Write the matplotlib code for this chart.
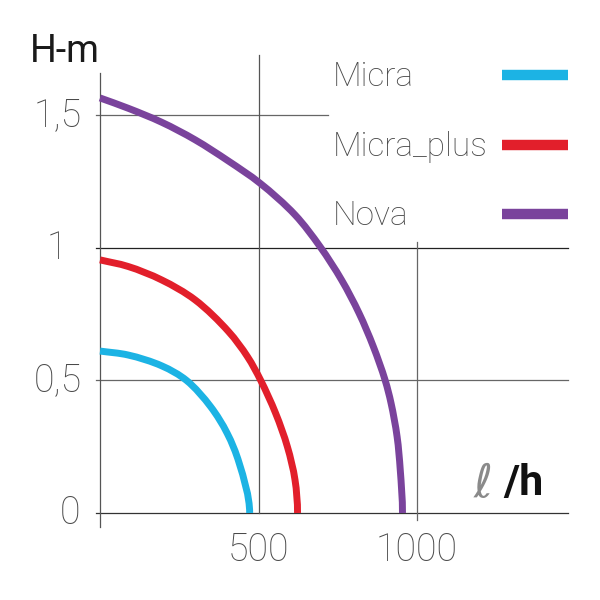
import matplotlib
matplotlib.use("Agg")
import matplotlib.pyplot as plt
from matplotlib.path import Path
from matplotlib.patches import PathPatch
import matplotlib.transforms as mtrans
import numpy as np

# ---- data ----
series_names = ["Micra", "Micra_plus", "Nova"]
series_colors = ["#1cb3e4", "#e21f2b", "#7a439c"]

micra_q = [0, 89, 195, 273, 349, 401, 439, 472]
micra_h = [0.611, 0.596, 0.555, 0.500, 0.401, 0.301, 0.188, 0.0]

micra_plus_q = [0, 89, 195, 300, 405, 465, 507, 554, 591, 615, 623]
micra_plus_h = [0.955, 0.930, 0.879, 0.804, 0.685, 0.590, 0.500, 0.376, 0.250, 0.125, 0.0]

nova_q = [0, 89, 195, 300, 405, 505, 615, 694, 762, 817, 862, 899, 918, 937, 947, 954]
nova_h = [1.566, 1.527, 1.474, 1.408, 1.328, 1.244, 1.125, 1.005, 0.879, 0.754, 0.628,
          0.502, 0.414, 0.288, 0.162, 0.0]

y_ticks = [0, 0.5, 1, 1.5]
y_tick_labels = ["0", "0,5", "1", "1,5"]
x_ticks = [500, 1000]
x_tick_labels = ["500", "1000"]

FONT = ["Roboto", "DejaVu Sans"]

XMAX, YMAX = 1476, 1.728
AX_W, AX_H = 468, 458  # axes size in pixels


def smooth_path(q, h):
    """Centripetal Catmull-Rom curve through the read points, as cubic Beziers."""
    sx, sy = AX_W / XMAX, AX_H / YMAX
    p = np.column_stack([np.asarray(q, float) * sx, np.asarray(h, float) * sy])
    first = 2 * p[0] - p[1]
    last = np.array([p[-2, 0], -p[-2, 1]])
    ext = np.vstack([first, p, last])
    verts = [tuple(p[0])]
    codes = [Path.MOVETO]
    for i in range(1, len(ext) - 2):
        p0, p1, p2, p3 = ext[i - 1], ext[i], ext[i + 1], ext[i + 2]
        d1 = max(np.hypot(*(p1 - p0)), 1e-6)
        d2 = max(np.hypot(*(p2 - p1)), 1e-6)
        d3 = max(np.hypot(*(p3 - p2)), 1e-6)
        r1, r2, r3 = np.sqrt(d1), np.sqrt(d2), np.sqrt(d3)
        b1 = (d1 * p2 - d2 * p0 + (2 * d1 + 3 * r1 * r2 + d2) * p1) / (3 * r1 * (r1 + r2))
        b2 = (d3 * p1 - d2 * p3 + (2 * d3 + 3 * r3 * r2 + d2) * p2) / (3 * r3 * (r3 + r2))
        verts += [tuple(b1), tuple(b2), tuple(p2)]
        codes += [Path.CURVE4] * 3
    verts = np.array(verts) / np.array([sx, sy])
    return Path(verts, codes)


fig = plt.figure(figsize=(6, 6), dpi=100)
ax = fig.add_axes([100 / 600, 87 / 600, AX_W / 600, AX_H / 600])
ax.set_xlim(0, XMAX)
ax.set_ylim(0, YMAX)
ax.axis("off")

# ---- grid / axis lines ----
gkw = dict(lw=0.9, clip_on=False, zorder=1)
ax.plot([-12, XMAX], [0, 0], color="#333333", **gkw)
ax.plot([-12, XMAX], [0.5, 0.5], color="#666666", **gkw)
ax.plot([-12, XMAX], [1, 1], color="#222222", **gkw)
ax.plot([-12, 720], [1.5, 1.5], color="#666666", **gkw)
ax.plot([0, 0], [-0.053, 1.66], color="#555555", **gkw)
ax.plot([500, 500], [0, YMAX], color="#555555", **gkw)
ax.plot([1000, 1000], [-0.026, 1.023], color="#666666", **gkw)

# ---- curves ----
all_q = [micra_q, micra_plus_q, nova_q]
all_h = [micra_h, micra_plus_h, nova_h]
for q, h, c in zip(all_q, all_h, series_colors):
    patch = PathPatch(smooth_path(q, h), facecolor="none", edgecolor=c, lw=5.0,
                      capstyle="butt", joinstyle="round", zorder=3, clip_on=False)
    ax.add_patch(patch)

# ---- tick labels ----
ytrans = mtrans.blended_transform_factory(fig.transFigure, ax.transData)
tick_centers = [70, 58, 57, 58]
for yv, lab, cx in zip(y_ticks, y_tick_labels, tick_centers):
    ax.text(cx / 600, yv, lab, transform=ytrans, ha="center", va="center",
            fontsize=27, family=FONT, fontweight="light", color="#4a4a4a")
xtrans = mtrans.blended_transform_factory(ax.transData, fig.transFigure)
for xv, lab in zip(x_ticks, x_tick_labels):
    ax.text(xv, 1 - 550 / 600, lab, transform=xtrans, ha="center", va="center",
            fontsize=27, family=FONT, fontweight="light", color="#4a4a4a")

# ---- axis titles ----
fig.text(30 / 600, 1 - 52 / 600, "H-m", ha="left", va="center", fontsize=27,
         family=FONT, color="#1a1a1a")
fig.text(474 / 600, 1 - 484 / 600, "\u2113", ha="left", va="center", fontsize=33,
         family=["DejaVu Sans", "Noto Sans"], style="italic", fontweight="light",
         color="#8a8a8a")
fig.text(503 / 600, 1 - 484 / 600, "/h", ha="left", va="center", fontsize=31,
         family=FONT, fontweight="bold", color="#111111")

# ---- legend ----
leg_y = [75, 145, 214]
for name, c, yy in zip(series_names, series_colors, leg_y):
    fig.text(333 / 600, 1 - (yy + 2) / 600, name, ha="left", va="center", fontsize=24,
             family=FONT, fontweight="light", color="#4a4a4a")
    fig.add_artist(plt.Line2D([502 / 600, 568 / 600], [1 - yy / 600, 1 - yy / 600],
                              color=c, lw=7.5, solid_capstyle="butt",
                              transform=fig.transFigure))

fig.savefig("out.png", dpi=100, facecolor="white")
